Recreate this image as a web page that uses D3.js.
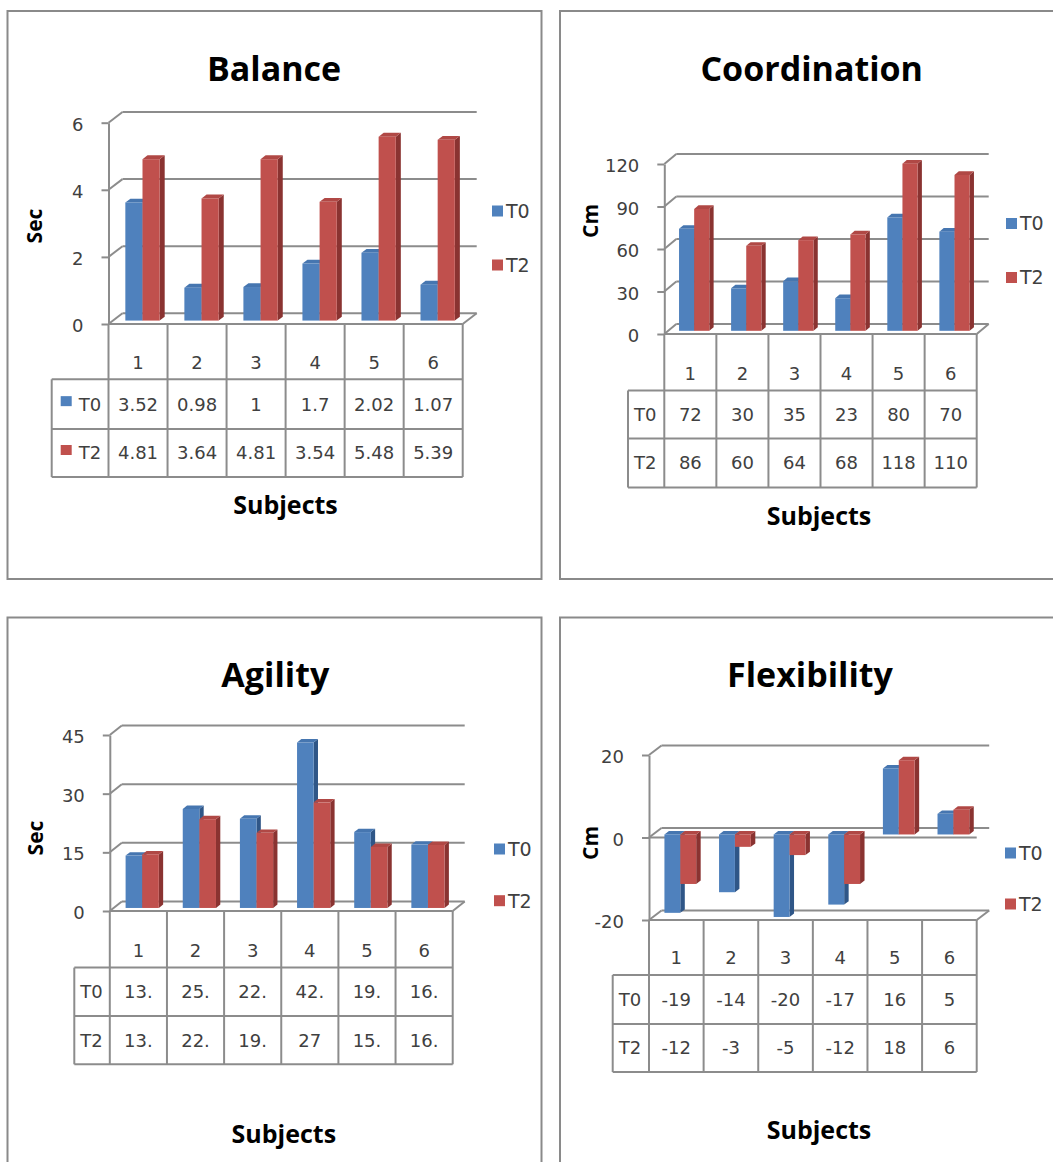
<!DOCTYPE html>
<html>
<head>
<meta charset="utf-8">
<script src="https://cdn.jsdelivr.net/npm/d3@7"></script>
<style>
  body { margin: 0; background: #fff; }
  svg { display: block; }
</style>
</head>
<body>
<svg id="fig" width="1053" height="1162"></svg>
<script>
// ---- data ----
const subjects = ["1", "2", "3", "4", "5", "6"];
const seriesNames = ["T0", "T2"];

const balanceT0 = [3.52, 0.98, 1, 1.7, 2.02, 1.07];
const balanceT2 = [4.81, 3.64, 4.81, 3.54, 5.48, 5.39];
const balanceTicks = [0, 2, 4, 6];

const coordinationT0 = [72, 30, 35, 23, 80, 70];
const coordinationT2 = [86, 60, 64, 68, 118, 110];
const coordinationTicks = [0, 30, 60, 90, 120];

const agilityT0 = [13.4, 25.3, 22.8, 42.3, 19.4, 16.2];
const agilityT2 = [13.7, 22.7, 19.2, 27, 15.6, 16.1];
const agilityTicks = [0, 15, 30, 45];

const flexibilityT0 = [-19, -14, -20, -17, 16, 5];
const flexibilityT2 = [-12, -3, -5, -12, 18, 6];
const flexibilityTicks = [-20, 0, 20];

// ---- styling ----
const GRID = "#8c8c8c";
const FRAME = "#8a8a8a";
const NUM_FONT = "'DejaVu Sans', Verdana, sans-serif";
const BOLD_FONT = "'Open Sans', 'Noto Sans', sans-serif";
const faces = {
  T0: { front: "#4f81bd", top: "#4676b0", side: "#2f5687" },
  T2: { front: "#c0504d", top: "#b04845", side: "#8a3331" }
};

// cell text as a narrow data-table column would show it (clipped to 3 chars)
const clip3 = v => String(v).slice(0, 3);

// ---- panel layouts ----
const panels = [
  {
    title: "Balance", yLabel: "Sec", t0: balanceT0, t2: balanceT2, ticks: balanceTicks,
    frame: [7.5, 11, 534, 568],
    x0: 108.5, x1: 462.7, yTop: 122.7, yBottom: 324, dx: 14, dy: -10.7,
    rows: [324, 379.3, 429, 477], headLeft: 51.7, keysInTable: true,
    legendX: 492, legendY: [211, 265],
    titlePos: [274, 81], subjPos: [285.5, 514], yLabPos: [34.5, 226],
    fmt: v => String(v)
  },
  {
    title: "Coordination", yLabel: "Cm", t0: coordinationT0, t2: coordinationT2, ticks: coordinationTicks,
    frame: [560, 11, 600, 568],
    x0: 664.3, x1: 976.7, yTop: 164, yBottom: 334, dx: 12, dy: -10,
    rows: [334, 390.6, 438.5, 487.5], headLeft: 628, keysInTable: false,
    legendX: 1006, legendY: [223.5, 277.5],
    titlePos: [811.7, 81], subjPos: [819, 525], yLabPos: [590, 221],
    fmt: v => String(v)
  },
  {
    title: "Agility", yLabel: "Sec", t0: agilityT0, t2: agilityT2, ticks: agilityTicks,
    frame: [7.5, 617.5, 534, 600],
    x0: 109.8, x1: 452.7, yTop: 735, yBottom: 911, dx: 12, dy: -9.5,
    rows: [911, 967.6, 1016, 1064.3], headLeft: 74.3, keysInTable: false,
    legendX: 494, legendY: [849, 900.7],
    titlePos: [275.3, 687], subjPos: [283.8, 1142.7], yLabPos: [35.5, 838],
    fmt: clip3
  },
  {
    title: "Flexibility", yLabel: "Cm", t0: flexibilityT0, t2: flexibilityT2, ticks: flexibilityTicks,
    frame: [560, 617.5, 600, 600],
    x0: 649, x1: 976.7, yTop: 755, yBottom: 920, dx: 12.5, dy: -9.5,
    rows: [920, 975, 1024, 1072], headLeft: 612.7, keysInTable: false,
    legendX: 1005, legendY: [853, 904],
    titlePos: [810, 687], subjPos: [819, 1139], yLabPos: [590, 843],
    fmt: v => String(v)
  }
];

const svg = d3.select("#fig");

function line(g, x1, y1, x2, y2, w = 2) {
  g.append("line")
    .attr("x1", x1).attr("y1", y1).attr("x2", x2).attr("y2", y2)
    .attr("stroke", GRID).attr("stroke-width", w);
}

function drawPanel(p) {
  const g = svg.append("g");

  g.append("rect")
    .attr("x", p.frame[0]).attr("y", p.frame[1])
    .attr("width", p.frame[2]).attr("height", p.frame[3])
    .attr("fill", "#fff").attr("stroke", FRAME).attr("stroke-width", 2);

  const y = d3.scaleLinear().domain(d3.extent(p.ticks)).range([p.yBottom, p.yTop]);
  const x = d3.scaleBand().domain(subjects).range([p.x0, p.x1]);
  const inner = d3.scaleBand().domain(seriesNames)
    .range([0, x.bandwidth()]).paddingInner(0).paddingOuter(0.72);

  // back wall gridlines and side wall diagonals
  p.ticks.forEach(t => {
    line(g, p.x0 + p.dx, y(t) + p.dy, p.x1 + p.dx, y(t) + p.dy);
    line(g, p.x0, y(t), p.x0 + p.dx, y(t) + p.dy);
  });
  // floor front edge and its right corner
  const yMin = y(d3.min(p.ticks));
  line(g, p.x0, yMin, p.x1, yMin);
  line(g, p.x1, yMin, p.x1 + p.dx, yMin + p.dy);
  // plane through zero when the axis goes negative
  if (d3.min(p.ticks) < 0) line(g, p.x0, y(0), p.x1, y(0));

  // value axis
  const axis = d3.axisLeft(y).tickValues(p.ticks).tickSize(7).tickSizeOuter(0)
    .tickPadding(18).tickFormat(d => String(d));
  const ax = g.append("g").attr("transform", `translate(${p.x0},0)`).call(axis);
  ax.select(".domain").attr("stroke", GRID).attr("stroke-width", 2);
  ax.selectAll(".tick line").attr("stroke", GRID).attr("stroke-width", 2);
  ax.selectAll(".tick text")
    .attr("font-family", NUM_FONT).attr("font-size", 18).attr("fill", "#404040")
    .attr("dy", "0.42em");

  // 3D columns: front face, top face, right side face
  const f0 = 0.32, f1 = 0.68;
  const sx = f0 * p.dx, sy = f0 * p.dy;
  const ddx = (f1 - f0) * p.dx, ddy = (f1 - f0) * p.dy;
  const series = { T0: p.t0, T2: p.t2 };
  const bars = g.append("g");
  subjects.forEach((s, i) => {
    seriesNames.forEach(name => {
      const v = series[name][i];
      const c = faces[name];
      const xl = x(s) + inner(name) + sx;
      const xr = xl + inner.bandwidth();
      const yt = y(Math.max(v, 0)) + sy;
      const yb = y(Math.min(v, 0)) + sy;
      bars.append("polygon")
        .attr("points", [[xr, yt], [xr + ddx, yt + ddy], [xr + ddx, yb + ddy], [xr, yb]].join(" "))
        .attr("fill", c.side);
      bars.append("polygon")
        .attr("points", [[xl, yt], [xr, yt], [xr + ddx, yt + ddy], [xl + ddx, yt + ddy]].join(" "))
        .attr("fill", c.top);
      bars.append("rect")
        .attr("x", xl).attr("y", yt)
        .attr("width", xr - xl).attr("height", Math.max(yb - yt, 0.5))
        .attr("fill", c.front);
    });
  });

  // data table under the category axis
  const [r0, r1, r2, r3] = p.rows;
  const tbl = g.append("g");
  subjects.forEach(s => line(tbl, x(s), r0, x(s), r3));
  line(tbl, p.x1, r0, p.x1, r3);
  [r1, r2, r3].forEach(r => line(tbl, p.headLeft, r, p.x1, r));
  line(tbl, p.headLeft, r1, p.headLeft, r3);

  tbl.selectAll("text.cat").data(subjects).join("text")
    .attr("x", d => x(d) + x.bandwidth() / 2).attr("y", r1 - 17)
    .attr("dy", "0.36em").attr("text-anchor", "middle")
    .attr("font-family", NUM_FONT).attr("font-size", 18).attr("fill", "#404040")
    .text(d => d);

  [[p.t0, r1, r2, "T0"], [p.t2, r2, r3, "T2"]].forEach(([vals, ra, rb, name]) => {
    const cy = (ra + rb) / 2;
    tbl.selectAll(null).data(vals).join("text")
      .attr("x", (d, i) => x(subjects[i]) + x.bandwidth() / 2).attr("y", cy)
      .attr("dy", "0.36em").attr("text-anchor", "middle")
      .attr("font-family", NUM_FONT).attr("font-size", 18).attr("fill", "#404040")
      .text(d => p.fmt(d));
    let tx = p.headLeft + 6;
    if (p.keysInTable) {
      tbl.append("rect").attr("x", p.headLeft + 9).attr("y", cy - 8)
        .attr("width", 11).attr("height", 10).attr("fill", faces[name].front);
      tx = p.headLeft + 27;
    }
    tbl.append("text").attr("x", tx).attr("y", cy).attr("dy", "0.36em")
      .attr("font-family", NUM_FONT).attr("font-size", 18).attr("fill", "#404040")
      .text(name);
  });

  // legend
  seriesNames.forEach((name, k) => {
    const cy = p.legendY[k];
    g.append("rect").attr("x", p.legendX).attr("y", cy - 5.5)
      .attr("width", 11).attr("height", 11).attr("fill", faces[name].front);
    g.append("text").attr("x", p.legendX + 14).attr("y", cy).attr("dy", "0.36em")
      .attr("font-family", NUM_FONT).attr("font-size", 19).attr("fill", "#404040")
      .text(name);
  });

  // titles
  g.append("text").attr("x", p.titlePos[0]).attr("y", p.titlePos[1])
    .attr("text-anchor", "middle").attr("font-family", BOLD_FONT)
    .attr("font-weight", 700).attr("font-size", 34).attr("fill", "#000")
    .text(p.title);
  g.append("text").attr("x", p.subjPos[0]).attr("y", p.subjPos[1])
    .attr("text-anchor", "middle").attr("font-family", BOLD_FONT)
    .attr("font-weight", 700).attr("font-size", 25).attr("fill", "#000")
    .text("Subjects");
  g.append("text")
    .attr("transform", `translate(${p.yLabPos[0]},${p.yLabPos[1]}) rotate(-90)`)
    .attr("text-anchor", "middle").attr("dy", "0.36em").attr("font-family", BOLD_FONT)
    .attr("font-weight", 700).attr("font-size", 21).attr("fill", "#000")
    .text(p.yLabel);
}

panels.forEach(drawPanel);
</script>
</body>
</html>
